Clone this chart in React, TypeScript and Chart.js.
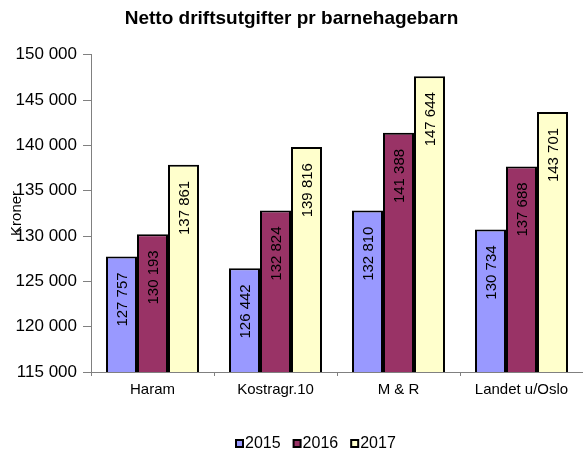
import React, { useEffect, useRef } from 'react';
import { Chart, registerables } from 'chart.js';

Chart.register(...registerables);

const chartTitle = 'Netto driftsutgifter pr barnehagebarn';
const yAxisTitle = 'Kroner';
const categories = ['Haram', 'Kostragr.10', 'M & R', 'Landet u/Oslo'];
const seriesNames = ['2015', '2016', '2017'];
const seriesColors = ['#9999FF', '#993366', '#FFFFCC'];
const values2015 = [127757, 126442, 132810, 130734];
const values2016 = [130193, 132824, 141388, 137688];
const values2017 = [137861, 139816, 147644, 143701];
const yMin = 115000;
const yMax = 150000;
const yStep = 5000;

const FONT = '"Liberation Sans", Arial, Helvetica, sans-serif';

const fmt = (v: number) => String(Math.round(v)).replace(/\B(?=(\d{3})+(?!\d))/g, ' ');

const barLabels = {
  id: 'barLabels',
  afterDatasetsDraw(chart: any) {
    const ctx = chart.ctx;
    ctx.save();
    ctx.font = `15px ${FONT}`;
    ctx.fillStyle = '#000';
    ctx.textAlign = 'right';
    ctx.textBaseline = 'middle';
    chart.data.datasets.forEach((ds: any, i: number) => {
      const meta = chart.getDatasetMeta(i);
      meta.data.forEach((bar: any, j: number) => {
        const v = ds.data[j];
        ctx.save();
        ctx.translate(bar.x + 1, bar.y + 16);
        ctx.rotate(-Math.PI / 2);
        ctx.fillText(fmt(v), 0, 0);
        ctx.restore();
      });
    });
    ctx.restore();
  },
};

// Legend drawn below the plot, compact like the original spreadsheet legend
const bottomLegend = {
  id: 'bottomLegend',
  afterDraw(chart: any) {
    const ctx = chart.ctx;
    ctx.save();
    ctx.font = `16px ${FONT}`;
    ctx.textBaseline = 'middle';
    ctx.textAlign = 'left';
    const box = 9;
    const gapBoxText = 1;
    const gapItems = 12;
    const cy = 443.5;
    let x = 235;
    chart.data.datasets.forEach((ds: any) => {
      ctx.fillStyle = ds.backgroundColor;
      ctx.fillRect(x + 1, cy - box / 2 + 1, box - 2, box - 2);
      ctx.strokeStyle = '#000';
      ctx.lineWidth = 2;
      ctx.strokeRect(x + 1, cy - box / 2 + 1, box - 2, box - 2);
      ctx.fillStyle = '#000';
      const tx = x + box + gapBoxText;
      ctx.fillText(ds.label, tx, cy);
      x = tx + ctx.measureText(ds.label).width + gapItems;
    });
    ctx.restore();
  },
};

export default function App() {
  const ref = useRef<HTMLCanvasElement | null>(null);

  useEffect(() => {
    if (!ref.current) return;
    const series = [values2015, values2016, values2017];
    const chart = new Chart(ref.current, {
      type: 'bar',
      data: {
        labels: categories,
        datasets: seriesNames.map((name, i) => ({
          label: name,
          data: series[i],
          backgroundColor: seriesColors[i],
          borderColor: '#000000',
          borderWidth: 2,
          borderSkipped: false,
          categoryPercentage: 0.756,
          barPercentage: 1,
        })),
      },
      options: {
        animation: false,
        responsive: true,
        maintainAspectRatio: false,
        layout: { padding: { top: 0, left: 0, right: 0, bottom: 0 } },
        plugins: {
          title: {
            display: true,
            text: chartTitle,
            color: '#000',
            font: { family: FONT, size: 19, weight: 'bold' },
            padding: { top: 7, bottom: 25 },
          },
          legend: { display: false },
          tooltip: { enabled: false },
        },
        scales: {
          x: {
            grid: {
              display: true,
              drawOnChartArea: false,
              drawTicks: true,
              tickLength: 4,
              color: '#808080',
              offset: true,
            },
            border: { color: '#808080', width: 1 },
            ticks: {
              color: '#000',
              font: { family: FONT, size: 15 },
              padding: 5,
              maxRotation: 0,
              autoSkip: false,
            },
            afterFit: (scale: any) => {
              scale.height = 83;
            },
          },
          y: {
            min: yMin,
            max: yMax,
            grid: {
              display: true,
              drawOnChartArea: false,
              drawTicks: true,
              tickLength: 8,
              color: '#808080',
            },
            border: { color: '#808080', width: 1 },
            ticks: {
              stepSize: yStep,
              color: '#000',
              font: { family: FONT, size: 17 },
              padding: 6,
              callback: (v: any) => fmt(Number(v)),
            },
            title: {
              display: true,
              text: yAxisTitle,
              color: '#000',
              font: { family: FONT, size: 15 },
              padding: { top: 8, bottom: 0 },
            },
            afterFit: (scale: any) => {
              scale.width = 91;
            },
          },
        },
      },
      plugins: [barLabels, bottomLegend],
    });
    return () => chart.destroy();
  }, []);

  return (
    <div style={{ position: 'fixed', left: 0, top: 0, width: 583, height: 455, background: '#fff' }}>
      <canvas ref={ref} />
    </div>
  );
}
